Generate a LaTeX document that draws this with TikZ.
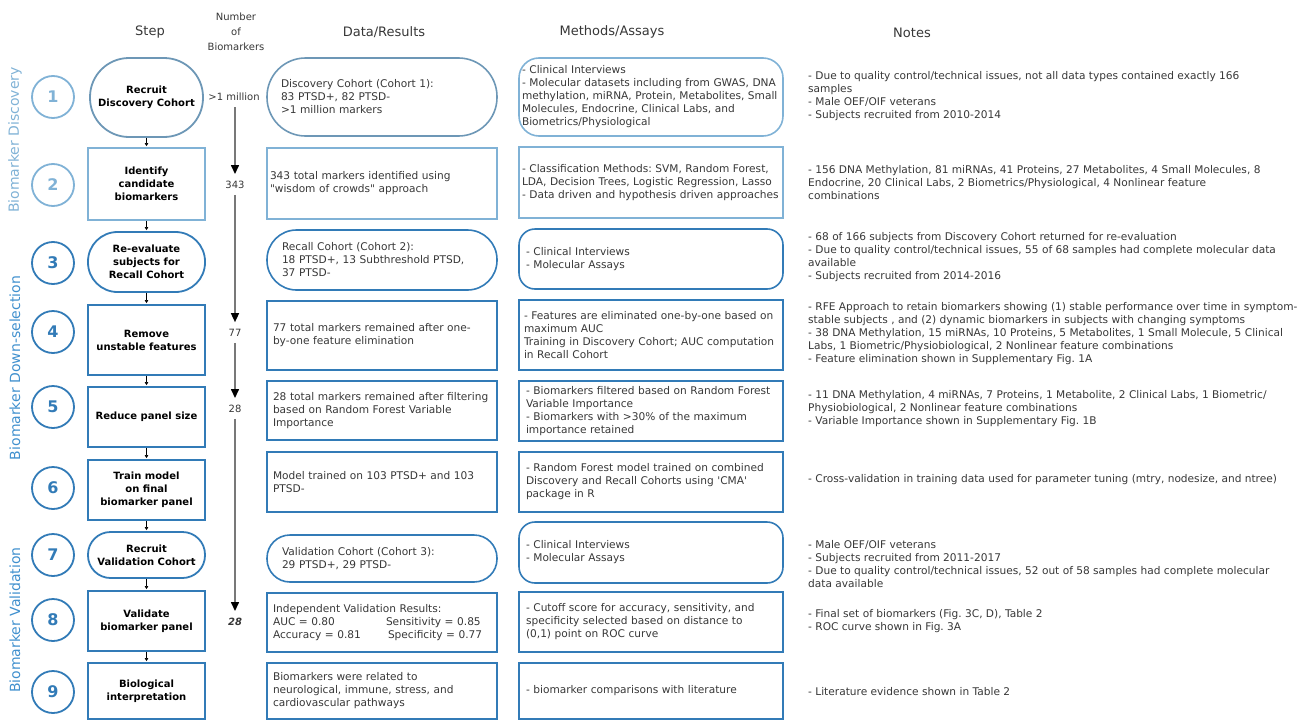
\documentclass[tikz,border=0pt]{standalone}
\usepackage{fontspec}
\setmainfont{DejaVu Sans}
\usetikzlibrary{arrows.meta,positioning}
\hyphenpenalty=10000
\exhyphenpenalty=10000
\frenchspacing
\newcommand\dquote{\XeTeXglyph\XeTeXglyphindex "quotedbl"\relax}
\newcommand\squote{\XeTeXglyph\XeTeXglyphindex "quotesingle"\relax}
\definecolor{discblue}{RGB}{128,178,214}
\definecolor{stepblue}{RGB}{50,123,183}
\definecolor{secblue}{RGB}{64,144,206}
\definecolor{txtgray}{RGB}{55,55,55}
\definecolor{linegray}{RGB}{120,120,120}
\tikzset{
  stepnum/.style={circle,draw,line width=1.8pt,minimum size=42pt,inner sep=0pt,font=\fontsize{16}{16}\selectfont\bfseries},
  stepbox/.style={draw,line width=1.8pt,minimum width=117pt,inner sep=0pt,align=center,font=\fontsize{10}{13}\selectfont\bfseries},
  databox/.style={draw,line width=1.6pt,minimum width=230pt,text width=218pt,inner xsep=6pt,inner ysep=0pt,align=left,text=txtgray,font=\fontsize{10.6}{13}\selectfont},
  methbox/.style={draw,line width=1.6pt,minimum width=264pt,text width=250pt,inner xsep=7pt,inner ysep=0pt,align=left,text=txtgray,font=\fontsize{10.6}{13}\selectfont},
  notetext/.style={anchor=west,inner sep=0pt,align=left,text=txtgray,font=\fontsize{10.6}{13}\selectfont},
  header/.style={text=txtgray,align=center,font=\fontsize{13}{15}\selectfont},
  count/.style={inner sep=2pt,text=txtgray,font=\fontsize{10}{12}\selectfont},
  section/.style={rotate=90,font=\fontsize{14}{14}\selectfont},
  bigarrow/.style={draw=linegray,line width=1.5pt,-{Triangle[width=8pt,length=9pt,color=black]},shorten <=4pt,shorten >=5pt},
  steparrow/.style={draw=black,line width=0.6pt,-{Triangle[width=3.5pt,length=3pt]},shorten >=1pt}
}
\begin{document}
\begin{tikzpicture}[x=1pt,y=-1pt]
  \useasboundingbox (0,0) rectangle (1298,720);
  \node[header] (hstep) at (150,32) {Step};
  \node[header,font=\fontsize{10}{15}\selectfont] (hnum) at (236,32) {Number\\of\\Biomarkers};
  \node[header] (hdata) at (384,32) {Data/Results};
  \node[header] (hmeth) at (612,32) {Methods/Assays};
  \node[header] (hnote) at (912,33) {Notes};

  \node[section,text=discblue] (secdisc) at (15,140) {Biomarker Discovery};
  \node[section,text=secblue] (secdown) at (15,368) {Biomarker Down-selection};
  \node[section,text=secblue] (secval) at (15,620) {Biomarker Validation};

  \node[stepnum,draw=discblue,text=discblue] (c1) at (53,97) {1};
  \node[stepnum,draw=discblue,text=discblue] (c2) at (53,185) {2};
  \node[stepnum,draw=stepblue,text=stepblue] (c3) at (53,263) {3};
  \node[stepnum,draw=stepblue,text=stepblue] (c4) at (53,332) {4};
  \node[stepnum,draw=stepblue,text=stepblue] (c5) at (53,407) {5};
  \node[stepnum,draw=stepblue,text=stepblue] (c6) at (53,488) {6};
  \node[stepnum,draw=stepblue,text=stepblue] (c7) at (53,555) {7};
  \node[stepnum,draw=stepblue,text=stepblue] (c8) at (53,620) {8};
  \node[stepnum,draw=stepblue,text=stepblue] (c9) at (53,692) {9};

  \node[stepbox,draw=discblue!85!black,minimum width=113pt,minimum height=79pt,rounded corners=39pt] (s1) at (146.5,97.5) {Recruit\\Discovery Cohort};
  \node[stepbox,draw=discblue,minimum height=72pt] (s2) at (146.5,184) {Identify\\candidate\\biomarkers};
  \node[stepbox,draw=stepblue,minimum height=60pt,rounded corners=29.5pt] (s3) at (146.5,262) {Re-evaluate\\subjects for\\Recall Cohort};
  \node[stepbox,draw=stepblue,minimum height=70pt] (s4) at (146.5,340) {Remove\\unstable features};
  \node[stepbox,draw=stepblue,minimum height=60pt] (s5) at (146.5,417) {Reduce panel size};
  \node[stepbox,draw=stepblue,minimum height=60pt] (s6) at (146.5,490) {Train model\\on final\\biomarker panel};
  \node[stepbox,draw=stepblue,minimum height=46pt,rounded corners=22.5pt] (s7) at (146.5,555) {Recruit\\Validation Cohort};
  \node[stepbox,draw=stepblue,minimum height=60pt] (s8) at (146.5,621) {Validate\\biomarker panel};
  \node[stepbox,draw=stepblue,minimum height=56pt] (s9) at (146.5,691) {Biological\\interpretation};

  \begin{scope}[steparrow]
    \draw (s1) to (s2);
    \draw (s2) to (s3);
    \draw (s3) to (s4);
    \draw (s4) to (s5);
    \draw (s5) to (s6);
    \draw (s6) to (s7);
    \draw (s7) to (s8);
    \draw (s8) to (s9);
  \end{scope}

  \node[count] (m1) at (234,97) {>1 million};
  \node[count] (m2) at (235,185) {343};
  \node[count] (m3) at (235,333) {77};
  \node[count] (m4) at (235,409) {28};
  \node[count,font=\fontsize{10}{12}\selectfont\bfseries\itshape] (m5) at (235,622) {28};
  \begin{scope}[bigarrow]
    \draw (m1.south -| m2) to (m2);
    \draw (m2) to (m3);
    \draw (m3) to (m4);
    \draw (m4) to (m5);
  \end{scope}

  \node[databox,draw=discblue!85!black,minimum height=78pt,rounded corners=38.5pt,inner xsep=14pt,text width=202pt] (d1) at (382,97) {Discovery Cohort (Cohort 1):\\83 PTSD+, 82 PTSD-\\>1 million markers};
  \node[databox,draw=discblue,minimum height=71pt,inner xsep=3pt,text width=224pt] (d2) at (382,183.5) {343 total markers identified using\\\dquote wisdom of crowds\dquote{} approach};
  \node[databox,draw=stepblue,minimum height=60pt,rounded corners=29.5pt,inner xsep=15pt,text width=200pt] (d3) at (382,260) {Recall Cohort (Cohort 2):\\18 PTSD+, 13 Subthreshold PTSD,\\37 PTSD-};
  \node[databox,draw=stepblue,minimum height=69pt] (d4) at (382,335.5) {77 total markers remained after one-\\by-one feature elimination};
  \node[databox,draw=stepblue,minimum height=59pt] (d5) at (382,410.5) {28 total markers remained after filtering\\based on Random Forest Variable\\Importance};
  \node[databox,draw=stepblue,minimum height=60pt] (d6) at (382,482) {Model trained on 103 PTSD+ and 103\\PTSD-};
  \node[databox,draw=stepblue,minimum height=47pt,rounded corners=23pt,inner xsep=15pt,text width=200pt] (d7) at (382,558.5) {Validation Cohort (Cohort 3):\\29 PTSD+, 29 PTSD-};
  \node[databox,draw=stepblue,minimum height=59pt] (d8) at (382,622.5) {Independent Validation Results:\\\makebox[113pt][l]{AUC = 0.80}Sensitivity = 0.85\\\makebox[115pt][l]{Accuracy = 0.81}Specificity = 0.77};
  \node[databox,draw=stepblue,minimum height=56pt] (d9) at (382,691) {Biomarkers were related to\\neurological, immune, stress, and\\cardiovascular pathways};

  \node[methbox,draw=discblue,minimum height=78pt,rounded corners=20pt,inner xsep=3pt,text width=258pt] (a1) at (651,97) {- Clinical Interviews\\- Molecular datasets including from GWAS, DNA\\methylation, miRNA, Protein, Metabolites, Small\\Molecules, Endocrine, Clinical Labs, and\\Biometrics/Physiological};
  \node[methbox,draw=discblue,minimum height=71pt,inner xsep=3pt,text width=258pt] (a2) at (651,182.5) {- Classification Methods: SVM, Random Forest,\\LDA, Decision Trees, Logistic Regression, Lasso\\- Data driven and hypothesis driven approaches};
  \node[methbox,draw=stepblue,minimum height=60pt,rounded corners=16pt] (a3) at (651,259) {- Clinical Interviews\\- Molecular Assays};
  \node[methbox,draw=stepblue,minimum height=70pt,inner xsep=5pt,text width=254pt] (a4) at (651,335) {- Features are eliminated one-by-one based on\\maximum AUC\\Training in Discovery Cohort; AUC computation\\in Recall Cohort};
  \node[methbox,draw=stepblue,minimum height=60pt] (a5) at (651,411) {- Biomarkers filtered based on Random Forest\\Variable Importance\\- Biomarkers with >30\% of the maximum\\importance retained};
  \node[methbox,draw=stepblue,minimum height=60pt] (a6) at (651,482) {- Random Forest model trained on combined\\Discovery and Recall Cohorts using \squote CMA\squote\\package in R};
  \node[methbox,draw=stepblue,minimum height=61pt,rounded corners=16pt] (a7) at (651,552.5) {- Clinical Interviews\\- Molecular Assays};
  \node[methbox,draw=stepblue,minimum height=60pt] (a8) at (651,622) {- Cutoff score for accuracy, sensitivity, and\\specificity selected based on distance to\\(0,1) point on ROC curve};
  \node[methbox,draw=stepblue,minimum height=56pt] (a9) at (651,691) {- biomarker comparisons with literature};

  \node[notetext] (t1) at (808,96) {- Due to quality control/technical issues, not all data types contained exactly 166\\samples\\- Male OEF/OIF veterans\\- Subjects recruited from 2010-2014};
  \node[notetext] (t2) at (808,183) {- 156 DNA Methylation, 81 miRNAs, 41 Proteins, 27 Metabolites, 4 Small Molecules, 8\\Endocrine, 20 Clinical Labs, 2 Biometrics/Physiological, 4 Nonlinear feature\\combinations};
  \node[notetext] (t3) at (808,257) {- 68 of 166 subjects from Discovery Cohort returned for re-evaluation\\- Due to quality control/technical issues, 55 of 68 samples had complete molecular data\\available\\- Subjects recruited from 2014-2016};
  \node[notetext] (t4) at (808,333.5) {- RFE Approach to retain biomarkers showing (1) stable performance over time in symptom-\\stable subjects , and (2) dynamic biomarkers in subjects with changing symptoms\\- 38 DNA Methylation, 15 miRNAs, 10 Proteins, 5 Metabolites, 1 Small Molecule, 5 Clinical\\Labs, 1 Biometric/Physiobiological, 2 Nonlinear feature combinations\\- Feature elimination shown in Supplementary Fig. 1A};
  \node[notetext] (t5) at (808,409) {- 11 DNA Methylation, 4 miRNAs, 7 Proteins, 1 Metabolite, 2 Clinical Labs, 1 Biometric/\\Physiobiological, 2 Nonlinear feature combinations\\- Variable Importance shown in Supplementary Fig. 1B};
  \node[notetext] (t6) at (808,480) {- Cross-validation in training data used for parameter tuning (mtry, nodesize, and ntree)};
  \node[notetext] (t7) at (808,564) {- Male OEF/OIF veterans\\- Subjects recruited from 2011-2017\\- Due to quality control/technical issues, 52 out of 58 samples had complete molecular\\data available};
  \node[notetext] (t8) at (808,621) {- Final set of biomarkers (Fig. 3C, D), Table 2\\- ROC curve shown in Fig. 3A};
  \node[notetext] (t9) at (808,692) {- Literature evidence shown in Table 2};
\end{tikzpicture}
\end{document}
